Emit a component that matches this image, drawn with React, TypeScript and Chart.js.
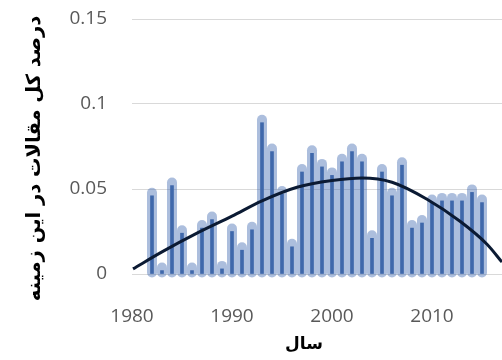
import React, { useEffect, useRef } from "react";
import { Chart, registerables } from "chart.js";

Chart.register(...registerables);

// Bars: share of all papers per year
const years = [
  1982, 1983, 1984, 1985, 1986, 1987, 1988, 1989, 1990, 1991, 1992, 1993,
  1994, 1995, 1996, 1997, 1998, 1999, 2000, 2001, 2002, 2003, 2004, 2005,
  2006, 2007, 2008, 2009, 2010, 2011, 2012, 2013, 2014, 2015,
];
const shares = [
  0.046, 0.002, 0.052, 0.024, 0.002, 0.027, 0.032, 0.003, 0.025, 0.014, 0.026, 0.089,
  0.072, 0.047, 0.016, 0.060, 0.071, 0.063, 0.058, 0.066, 0.072, 0.066, 0.021, 0.060,
  0.046, 0.064, 0.027, 0.030, 0.042, 0.043, 0.043, 0.043, 0.048, 0.042,
];

// Trend curve
const trendYears = [1980.1, 1983, 1986.5, 1990, 1993, 1996.5, 2000, 2003, 2006, 2009.5, 2012.8, 2015.5, 2017];
const trendValues = [0.003, 0.013, 0.024, 0.034, 0.043, 0.051, 0.055, 0.0565, 0.054, 0.044, 0.031, 0.0175, 0.007];

const xTicks = [1980, 1990, 2000, 2010];
const yTicks = [0, 0.05, 0.1, 0.15];
const yTitle = "درصد کل مقالات در این زمینه";
const xTitle = "سال";

const glowPlugin = {
  id: "glow",
  beforeDatasetDraw(chart: any, args: any) {
    if (args.meta.type !== "bar") return;
    const ctx = chart.ctx;
    ctx.save();
    ctx.lineCap = "round";
    ctx.lineWidth = 10;
    ctx.strokeStyle = "rgba(70,110,180,0.45)";
    args.meta.data.forEach((el: any) => {
      const p = el.getProps(["x", "y", "base"], true);
      ctx.beginPath();
      ctx.moveTo(p.x, p.base - 1);
      ctx.lineTo(p.x, p.y - 3);
      ctx.stroke();
    });
    ctx.restore();
  },
};

const titlePlugin = {
  id: "titles",
  afterDraw(chart: any) {
    const ctx = chart.ctx;
    const a = chart.chartArea;
    ctx.save();
    ctx.fillStyle = "#000000";
    ctx.font = 'bold 19.5px "DejaVu Sans"';
    ctx.textAlign = "center";
    ctx.textBaseline = "middle";
    ctx.translate(a.left - 97, (a.top + a.bottom) / 2 + 12);
    ctx.rotate(-Math.PI / 2);
    ctx.fillText(yTitle, 0, 0);
    ctx.restore();
    ctx.save();
    ctx.fillStyle = "#000000";
    ctx.font = 'bold 17px "DejaVu Sans"';
    ctx.textAlign = "center";
    ctx.textBaseline = "middle";
    ctx.fillText(xTitle, 304, a.bottom + 71);
    ctx.restore();
  },
};

export default function App() {
  const ref = useRef<HTMLCanvasElement | null>(null);
  useEffect(() => {
    if (!ref.current) return;
    const chart = new Chart(ref.current, {
      type: "bar",
      data: {
        datasets: [
          {
            type: "bar",
            data: years.map((y, i) => ({ x: y, y: shares[i] })),
            backgroundColor: "#3f68ab",
            barThickness: 3,
            order: 1,
          } as any,
          {
            type: "line",
            data: trendYears.map((y, i) => ({ x: y, y: trendValues[i] })),
            borderColor: "#0b1a33",
            borderWidth: 3,
            pointRadius: 0,
            cubicInterpolationMode: "monotone",
            order: 0,
          } as any,
        ],
      },
      options: {
        animation: false,
        responsive: false,
        devicePixelRatio: 1,
        layout: { padding: { top: 19, right: 0, left: 0, bottom: 0 }, autoPadding: false } as any,
        plugins: { legend: { display: false }, tooltip: { enabled: false } },
        scales: {
          x: {
            type: "linear",
            min: 1980,
            max: 2017,
            offset: false,
            grid: { display: false, drawTicks: false },
            border: { display: true, color: "#d9d9d9" },
            afterBuildTicks: (s: any) => {
              s.ticks = xTicks.map((v) => ({ value: v }));
            },
            afterFit: (s: any) => {
              s.height = 86;
              s.paddingLeft = 0;
              s.paddingRight = 0;
            },
            ticks: {
              padding: 31,
              color: "#595959",
              font: { family: "Open Sans", size: 19 },
              callback: (v: any) => String(v),
              maxRotation: 0,
            },
          },
          y: {
            min: 0,
            max: 0.15,
            grid: { color: "#d9d9d9", drawTicks: false, lineWidth: 1 },
            border: { display: false },
            afterBuildTicks: (s: any) => {
              s.ticks = yTicks.map((v) => ({ value: v }));
            },
            afterFit: (s: any) => {
              s.width = 132;
              s.paddingTop = 0;
              s.paddingBottom = 0;
            },
            ticks: {
              padding: 25,
              color: "#595959",
              font: { family: "Open Sans", size: 19 },
              callback: (v: any) => String(Math.round(Number(v) * 100) / 100),
            },
          },
        },
      },
      plugins: [glowPlugin, titlePlugin],
    });
    return () => chart.destroy();
  }, []);
  return (
    <div style={{ position: "fixed", left: 0, top: 0, width: 502, height: 360, background: "#fff" }}>
      <canvas ref={ref} width={502} height={360} />
    </div>
  );
}
